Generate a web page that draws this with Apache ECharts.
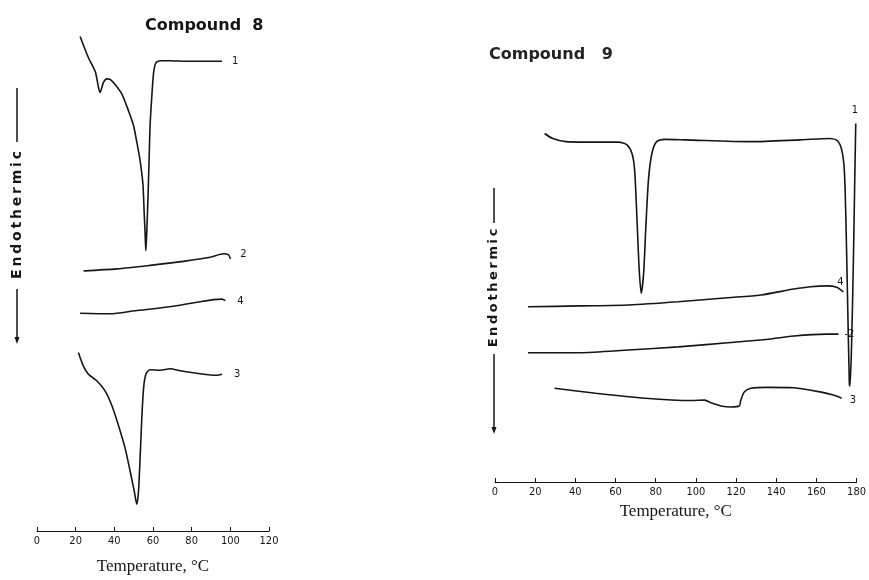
<!DOCTYPE html>
<html>
<head>
<meta charset="utf-8">
<script src="https://cdn.jsdelivr.net/npm/echarts@6/dist/echarts.min.js"></script>
<style>
  html, body { margin: 0; padding: 0; background: #fff; }
  #char { width: 869px; height: 580px; }
</style>
</head>
<body>
<div id="char"></div>
<script>
// Compound 8 : [temperature °C, signal (arbitrary units)]
var c8Curve1 = [[22.3, 98.1], [26.6, 93.9], [30.1, 91.2], [31.8, 88.0], [32.6, 87.0], [34.4, 89.0], [36.1, 89.7], [37.8, 89.6], [40.4, 88.6], [43.9, 86.7], [47.3, 83.4], [49.9, 80.5], [51.6, 77.2], [53.4, 73.3], [54.8, 68.7], [55.4, 63.5], [56.0, 58.2], [56.3, 55.6], [56.8, 59.5], [57.4, 66.1], [58.0, 73.9], [58.5, 80.5], [59.4, 86.3], [60.3, 90.9], [61.5, 92.9], [63.7, 93.3], [68.9, 93.3], [77.5, 93.2], [87.9, 93.2], [95.7, 93.2]];
var c8Curve2 = [[24.0, 51.6], [41.3, 52.0], [58.5, 52.7], [75.8, 53.5], [89.6, 54.3], [96.5, 55.0], [99.1, 54.8], [100.0, 54.0]];
var c8Curve4 = [[22.3, 43.2], [37.8, 43.1], [50.8, 43.7], [70.6, 44.6], [84.5, 45.5], [91.3, 45.9], [95.7, 46.0], [97.4, 45.7]];
var c8Curve3 = [[21.4, 35.4], [24.0, 32.7], [26.6, 31.1], [30.9, 29.8], [35.2, 27.8], [38.7, 24.9], [42.1, 21.0], [45.6, 16.4], [48.2, 11.8], [50.3, 7.9], [51.6, 5.3], [52.5, 7.9], [53.4, 15.1], [54.2, 22.3], [55.1, 28.2], [56.3, 31.1], [58.5, 32.0], [63.7, 31.9], [68.9, 32.2], [74.1, 31.8], [84.5, 31.2], [93.1, 30.9], [95.7, 31.1]];

// Compound 9
var c9Curve1 = [[24.7, 76.6], [28.8, 75.5], [35.3, 74.8], [45.2, 74.7], [61.6, 74.7], [65.7, 74.1], [68.2, 72.2], [69.5, 68.6], [70.7, 57.6], [71.8, 46.6], [72.8, 41.5], [74.0, 45.9], [75.1, 56.1], [76.4, 66.4], [78.1, 72.2], [80.5, 74.8], [84.7, 75.3], [94.5, 75.2], [127.4, 74.8], [152.0, 75.2], [166.8, 75.5], [170.5, 75.0], [172.6, 73.0], [173.9, 68.6], [174.7, 57.6], [175.4, 42.9], [176.4, 21.7], [176.7, 21.1], [177.5, 29.7], [178.4, 48.1], [179.1, 66.4], [179.6, 78.8]];
var c9Curve4 = [[16.4, 38.5], [41.9, 38.7], [66.6, 38.9], [91.2, 39.6], [115.9, 40.5], [132.3, 41.1], [148.8, 42.4], [157.0, 42.9], [165.2, 43.1], [170.1, 42.8], [173.4, 41.8]];
var c9Curve2 = [[16.4, 28.4], [41.9, 28.4], [66.6, 29.0], [91.2, 29.7], [115.9, 30.6], [132.3, 31.2], [148.8, 32.1], [165.2, 32.5], [171.0, 32.5]];
var c9Curve3 = [[29.6, 20.6], [50.1, 19.5], [74.8, 18.4], [97.8, 17.9], [104.4, 18.0], [107.6, 17.4], [112.6, 16.7], [117.5, 16.5], [121.6, 16.7], [122.4, 18.0], [124.1, 19.8], [127.4, 20.6], [135.6, 20.8], [148.8, 20.7], [161.9, 19.8], [168.5, 19.1], [172.6, 18.4]];

var tickFont = "'DejaVu Sans Condensed', 'Liberation Sans Narrow', sans-serif";
var ink = "#151515";

function curve(name, data, axis, label, off) {
  return {
    name: name,
    type: "line",
    xAxisIndex: axis,
    yAxisIndex: axis,
    data: data,
    showSymbol: false,
    smooth: 0.25,
    lineStyle: { color: ink, width: 1.6 },
    endLabel: {
      show: true,
      formatter: label,
      color: ink,
      fontSize: 11,
      fontFamily: tickFont,
      offset: off
    },
    silent: true
  };
}

function tempAxis(idx, max, gap) {
  return {
    gridIndex: idx,
    type: "value",
    min: 0,
    max: max,
    interval: 20,
    name: "Temperature, °C",
    nameLocation: "middle",
    nameGap: gap,
    nameTextStyle: { fontFamily: "'Liberation Serif', serif", fontSize: 17, color: ink },
    axisLine: { lineStyle: { color: ink, width: 1 } },
    axisTick: { inside: true, length: 4, lineStyle: { color: ink } },
    axisLabel: { color: ink, fontSize: 11, fontFamily: tickFont, margin: 5 },
    splitLine: { show: false }
  };
}

function endoLabel(x, cy, top, bottom, fs) {
  var gap = "\u2009";
  return [
    { type: "line", shape: { x1: x, y1: top[0], x2: x, y2: top[1] }, style: { stroke: ink, lineWidth: 1.5 } },
    { type: "text", x: x, y: cy, rotation: Math.PI / 2,
      style: { text: "Endothermic".split("").join(gap), fill: ink, font: "bold " + fs + "px 'DejaVu Sans', sans-serif", align: "center", verticalAlign: "middle" } },
    { type: "line", shape: { x1: x, y1: bottom[0], x2: x, y2: bottom[1] - 4 }, style: { stroke: ink, lineWidth: 1.5 } },
    { type: "polygon", shape: { points: [[x - 2.5, bottom[1] - 7], [x + 2.5, bottom[1] - 7], [x, bottom[1]]] }, style: { fill: ink } }
  ];
}

var myChart = echarts.init(document.getElementById("char"));
var option = {
  animation: false,
  title: [
    { text: "Compound  8", left: 140, top: 13,
      textStyle: { fontFamily: "'DejaVu Sans', sans-serif", fontWeight: "bold", fontSize: 16, color: ink } },
    { text: "Compound   9", left: 484, top: 42,
      textStyle: { fontFamily: "'DejaVu Sans', sans-serif", fontWeight: "bold", fontSize: 16, color: "#222" } }
  ],
  grid: [
    { left: 37, width: 232, top: 27, height: 510 },
    { left: 495, width: 365, top: 27, height: 455 }
  ],
  xAxis: [tempAxis(0, 120, 27), tempAxis(1, 180, 19)],
  yAxis: [
    { gridIndex: 0, type: "value", min: 0, max: 100, show: false },
    { gridIndex: 1, type: "value", min: 0, max: 100, show: false }
  ],
  graphic: endoLabel(17, 215, [88, 142], [289, 344], 14)
    .concat(endoLabel(494, 288, [188, 223], [354, 434], 13)),
  series: [
    curve("8-1", c8Curve1, 0, "1", [2, 0]),
    curve("8-2", c8Curve2, 0, "2", [2, -5]),
    curve("8-4", c8Curve4, 0, "4", [4, 0]),
    curve("8-3", c8Curve3, 0, "3", [4, 0]),
    curve("9-1", c9Curve1, 1, "1", [-12, -13]),
    curve("9-4", c9Curve4, 1, "4", [-14, -10]),
    curve("9-2", c9Curve2, 1, "-2", [-2, 0]),
    curve("9-3", c9Curve3, 1, "3", [0, 2])
  ]
};
myChart.setOption(option);
</script>
</body>
</html>
